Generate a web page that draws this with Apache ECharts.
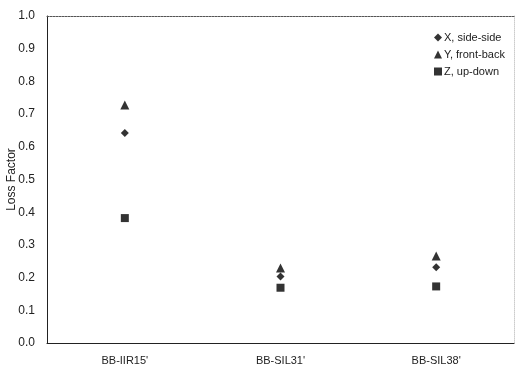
<!DOCTYPE html>
<html><head><meta charset="utf-8">
<script src="https://cdn.jsdelivr.net/npm/echarts@6/dist/echarts.min.js"></script>
<style>html,body{margin:0;padding:0;background:#fff}#c{width:526px;height:389px}</style>
</head><body><div id="c"></div>
<script>
var categories = ["BB-IIR15'", "BB-SIL31'", "BB-SIL38'"];
var xSide = [0.642, 0.203, 0.232];
var yFront = [0.728, 0.229, 0.266];
var zUp = [0.382, 0.169, 0.173];
var yTicks = [0, 0.1, 0.2, 0.3, 0.4, 0.5, 0.6, 0.7, 0.8, 0.9, 1.0];
var seriesNames = ["X, side-side", "Y, front-back", "Z, up-down"];

var chart = echarts.init(document.getElementById('c'), null, {renderer: 'canvas'});
var font = 'Liberation Sans, Arial, sans-serif';
chart.setOption({
  animation: false,
  backgroundColor: '#fff',
  grid: {left: 47, right: 12, top: 16, bottom: 46, outerBoundsMode: 'none', containLabel: false},
  legend: {
    orient: 'vertical', left: 429, top: 27, itemWidth: 8, itemHeight: 8, itemGap: 6,
    textStyle: {fontFamily: font, fontSize: 11, color: '#222', padding: [0, 0, 0, -3]},
    data: [
      {name: seriesNames[0], icon: 'diamond'},
      {name: seriesNames[1], icon: 'triangle'},
      {name: seriesNames[2], icon: 'rect'}
    ]
  },
  xAxis: [{
    type: 'category', data: categories, boundaryGap: true,
    axisLine: {lineStyle: {color: '#222', width: 1}},
    axisTick: {show: false},
    axisLabel: {fontFamily: font, fontSize: 11, color: '#222', margin: 12}
  }, {
    type: 'category', data: categories, position: 'top',
    axisLine: {show: true, onZero: false, lineStyle: {color: '#555', type: [2, 1], width: 1}},
    axisTick: {show: false}, axisLabel: {show: false}
  }],
  yAxis: [{
    type: 'value', min: 0, max: 1, interval: 0.1,
    name: 'Loss Factor', nameLocation: 'middle', nameGap: 29, nameMoveOverlap: false,
    nameTextStyle: {fontFamily: font, fontSize: 12, color: '#222'},
    axisLine: {show: true, lineStyle: {color: '#222', width: 1}},
    axisTick: {show: false},
    splitLine: {show: false},
    axisLabel: {fontFamily: font, fontSize: 12, color: '#222', margin: 12,
      formatter: function (v) { return v.toFixed(1); }}
  }, {
    type: 'value', min: 0, max: 1, interval: 0.1, position: 'right',
    axisLine: {show: true, onZero: false, lineStyle: {color: '#ccc', type: 'dotted'}},
    axisTick: {show: false}, axisLabel: {show: false}, splitLine: {show: false}
  }],
  series: [
    {name: seriesNames[0], type: 'scatter', data: xSide, symbol: 'diamond', symbolSize: 8, itemStyle: {color: '#000'}},
    {name: seriesNames[1], type: 'scatter', data: yFront, symbol: 'triangle', symbolSize: 9, itemStyle: {color: '#000'}},
    {name: seriesNames[2], type: 'scatter', data: zUp, symbol: 'rect', symbolSize: 8, itemStyle: {color: '#000'}}
  ]
});
</script></body></html>
